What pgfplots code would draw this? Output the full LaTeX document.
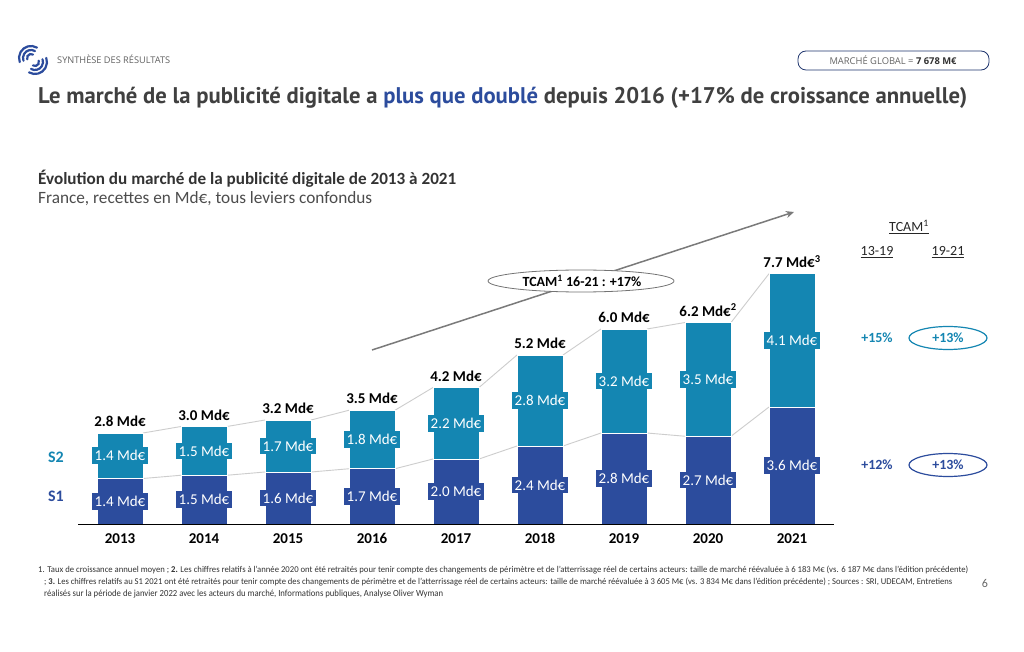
\documentclass[border=0pt]{standalone}
\usepackage{pgfplots}
\pgfplotsset{compat=1.18}
\usepackage{pgfplotstable}
\usepackage{fontspec}
\usepackage{graphicx}
\setmainfont{Carlito}
\newfontfamily\ptsans{PT Sans}
\newfontfamily\osans{Open Sans}
\usetikzlibrary{arrows.meta}
\definecolor{sone}{RGB}{44,76,157}
\definecolor{stwo}{RGB}{20,134,178}
\definecolor{ttl}{RGB}{64,64,64}
\definecolor{lgray}{RGB}{205,205,205}

\pgfplotstableread{
x s1 s2 tot
0 1.4 1.4 2.8
1 1.5 1.5 3.0
2 1.6 1.7 3.2
3 1.7 1.8 3.5
4 2.0 2.2 4.2
5 2.4 2.8 5.2
6 2.8 3.2 6.0
7 2.7 3.5 6.2
8 3.6 4.1 7.7
}\data

\begin{document}
\begin{tikzpicture}[x=1pt,y=1pt]
\fill[white] (0,0) rectangle (1024,651);
\path[use as bounding box] (0,0) rectangle (1024,651);

\begin{axis}[
  at={(78pt,127pt)}, anchor=south west, scale only axis,
  width=756pt, height=260pt,
  xmin=-0.5, xmax=8.5, ymin=0, ymax=8,
  axis x line=bottom, axis y line=none,
  axis line style={-, black, line width=1pt},
  axis on top,
  xtick={0,1,2,3,4,5,6,7,8},
  xticklabels={2013,2014,2015,2016,2017,2018,2019,2020,2021},
  major tick length=0pt,
  xticklabel style={font=\bfseries\fontsize{15}{15}\selectfont, anchor=base, yshift=-19pt},
  clip=false,
  /pgf/number format/assume math mode=true,
  unbounded coords=jump,
]
% connecting lines
\addplot[lgray, line width=0.9pt, mark=none] coordinates {
 (0.274,2.8)(0.726,3.0)(1,nan)(1.274,3.0)(1.726,3.2)(2,nan)(2.274,3.2)(2.726,3.5)(3,nan)
 (3.274,3.5)(3.726,4.2)(4,nan)(4.274,4.2)(4.726,5.2)(5,nan)(5.274,5.2)(5.726,6.0)(6,nan)
 (6.274,6.0)(6.726,6.2)(7,nan)(7.274,6.2)(7.726,7.7)};
\addplot[lgray, line width=0.9pt, mark=none] coordinates {
 (0.274,1.4)(0.726,1.5)(1,nan)(1.274,1.5)(1.726,1.6)(2,nan)(2.274,1.6)(2.726,1.7)(3,nan)
 (3.274,1.7)(3.726,2.0)(4,nan)(4.274,2.0)(4.726,2.4)(5,nan)(5.274,2.4)(5.726,2.8)(6,nan)
 (6.274,2.8)(6.726,2.7)(7,nan)(7.274,2.7)(7.726,3.6)};
% bars
\addplot[ybar, bar width=46pt, bar shift=0pt, fill=stwo, draw=white, line width=0.7pt] table[x=x,y=tot]{\data};
\addplot[ybar, bar width=46pt, bar shift=0pt, fill=sone, draw=white, line width=0.7pt] table[x=x,y=s1]{\data};
% segment labels
\addplot[draw=none, mark=none,
  point meta=\thisrow{s1},
  nodes near coords={\pgfmathprintnumber[fixed,fixed zerofill,precision=1]{\pgfplotspointmeta}~Md€},
  every node near coord/.append style={anchor=center, fill=sone, text=white,
     font=\fontsize{15}{15}\selectfont, inner xsep=3pt, inner ysep=3pt}]
  table[x=x, y expr=\thisrow{s1}/2]{\data};
\addplot[draw=none, mark=none,
  point meta=\thisrow{s2},
  nodes near coords={\pgfmathprintnumber[fixed,fixed zerofill,precision=1]{\pgfplotspointmeta}~Md€},
  every node near coord/.append style={anchor=center, fill=stwo, text=white,
     font=\fontsize{15}{15}\selectfont, inner xsep=3pt, inner ysep=3pt}]
  table[x=x, y expr=(\thisrow{s1}+\thisrow{tot})/2]{\data};
% total labels
\addplot[draw=none, mark=none, point meta=explicit symbolic,
  nodes near coords={\pgfplotspointmeta},
  every node near coord/.append style={anchor=base, yshift=6.5pt, text=black,
     font=\bfseries\fontsize{15}{15}\selectfont, inner sep=0pt}]
  coordinates {(0,2.8)[2.8 Md€] (1,3.0)[3.0 Md€] (2,3.2)[3.2 Md€] (3,3.5)[3.5 Md€]
   (4,4.2)[4.2 Md€] (5,5.2)[5.2 Md€] (6,6.0)[6.0 Md€]
   (7,6.2)[6.2 Md€\textsuperscript{2}] (8,7.7)[7.7 Md€\textsuperscript{3}]};
\end{axis}

% header logo
\begin{scope}[sone, line width=2.2pt, line cap=round]
 \foreach \r in {4,8,12}{
  \draw ([shift={(60:\r)}]31,593) arc[start angle=60, end angle=200, radius=\r];
  \draw ([shift={(240:\r)}]35,589) arc[start angle=240, end angle=380, radius=\r];
 }
\end{scope}
\node[anchor=base west, inner sep=0pt, text=black!62] at (57,587)
  {\resizebox{113pt}{!}{\osans\fontsize{9}{9}\selectfont SYNTHÈSE DES RÉSULTATS}};
\draw[sone!70!black, line width=0.8pt, rounded corners=8pt] (798,581) rectangle (989,600);
\node[inner sep=0pt, text=black!60] at (893,590.5)
  {\resizebox{127pt}{!}{\osans\fontsize{9}{9}\selectfont MARCHÉ GLOBAL = {\bfseries\color{black!80}7 678 M€}}};

% title
\node[anchor=base west, inner sep=0pt, text=ttl] at (38,547)
  {\resizebox{929pt}{!}{\ptsans\bfseries\fontsize{20}{20}\selectfont Le marché de la publicité digitale a \textcolor{sone}{plus que doublé} depuis 2016 (+17\% de croissance annuelle)}};

% subtitle
\node[anchor=base west, inner sep=0pt, text=black!80] at (38,466)
  {\resizebox{418pt}{!}{\bfseries\fontsize{18}{18}\selectfont Évolution du marché de la publicité digitale de 2013 à 2021}};
\node[anchor=base west, inner sep=0pt, text=black!70] at (38,447)
  {\resizebox{334pt}{!}{\fontsize{18}{18}\selectfont France, recettes en Md€, tous leviers confondus}};

% growth arrow
\draw[black!52, line width=1.5pt, -{Stealth[length=8pt,width=7pt]}] (372,301) -- (794,439);
\draw[black!55, fill=white, line width=0.8pt] (581,370) ellipse [x radius=93, y radius=11];
\node[font=\bfseries\fontsize{14}{14}\selectfont, text=black] at (582,370) {TCAM\textsuperscript{1} 16-21 : +17\%};

% S labels
\node[font=\bfseries\fontsize{16}{16}\selectfont, text=stwo] at (56,194) {S2};
\node[font=\bfseries\fontsize{16}{16}\selectfont, text=sone] at (56,155) {S1};

% TCAM table
\node[font=\fontsize{14}{14}\selectfont, text=black!85] at (909,424) {\underline{TCAM\textsuperscript{1}}};
\node[font=\fontsize{14}{14}\selectfont, text=black!85] at (877,399) {\underline{13-19}};
\node[font=\fontsize{14}{14}\selectfont, text=black!85] at (948,399) {\underline{19-21}};
\node[font=\bfseries\fontsize{14}{14}\selectfont, text=stwo] at (877,313) {+15\%};
\draw[stwo, line width=1.2pt] (948,313) ellipse [x radius=39, y radius=11.5];
\node[font=\bfseries\fontsize{14}{14}\selectfont, text=stwo] at (948,313) {+13\%};
\node[font=\bfseries\fontsize{14}{14}\selectfont, text=sone] at (877,186) {+12\%};
\draw[sone, line width=1.2pt] (948,186) ellipse [x radius=39, y radius=11.5];
\node[font=\bfseries\fontsize{14}{14}\selectfont, text=sone] at (948,186) {+13\%};

% footnotes
\node[anchor=base west, inner sep=0pt, text=black!80] at (38,79)
  {\resizebox{930pt}{6.5pt}{\fontsize{8}{8}\selectfont 1. Taux de croissance annuel moyen ; \textbf{2.} Les chiffres relatifs à l'année 2020 ont été retraités pour tenir compte des changements de périmètre et de l'atterrissage réel de certains acteurs: taille de marché réévaluée à 6 183 M€ (vs. 6 187 M€ dans l'édition précédente)}};
\node[anchor=base west, inner sep=0pt, text=black!80] at (44,67)
  {\resizebox{908pt}{6.5pt}{\fontsize{8}{8}\selectfont ; \textbf{3.} Les chiffres relatifs au S1 2021 ont été retraités pour tenir compte des changements de périmètre et de l'atterrissage réel de certains acteurs: taille de marché réévaluée à 3 605 M€ (vs. 3 834 M€ dans l'édition précédente) ; Sources : SRI, UDECAM, Entretiens}};
\node[anchor=base west, inner sep=0pt, text=black!80] at (44,55)
  {\resizebox{399pt}{6.5pt}{\fontsize{8}{8}\selectfont réalisés sur la période de janvier 2022 avec les acteurs du marché, Informations publiques, Analyse Oliver Wyman}};
\node[font=\fontsize{12}{12}\selectfont, text=black!60] at (985,68) {6};
\end{tikzpicture}
\end{document}
